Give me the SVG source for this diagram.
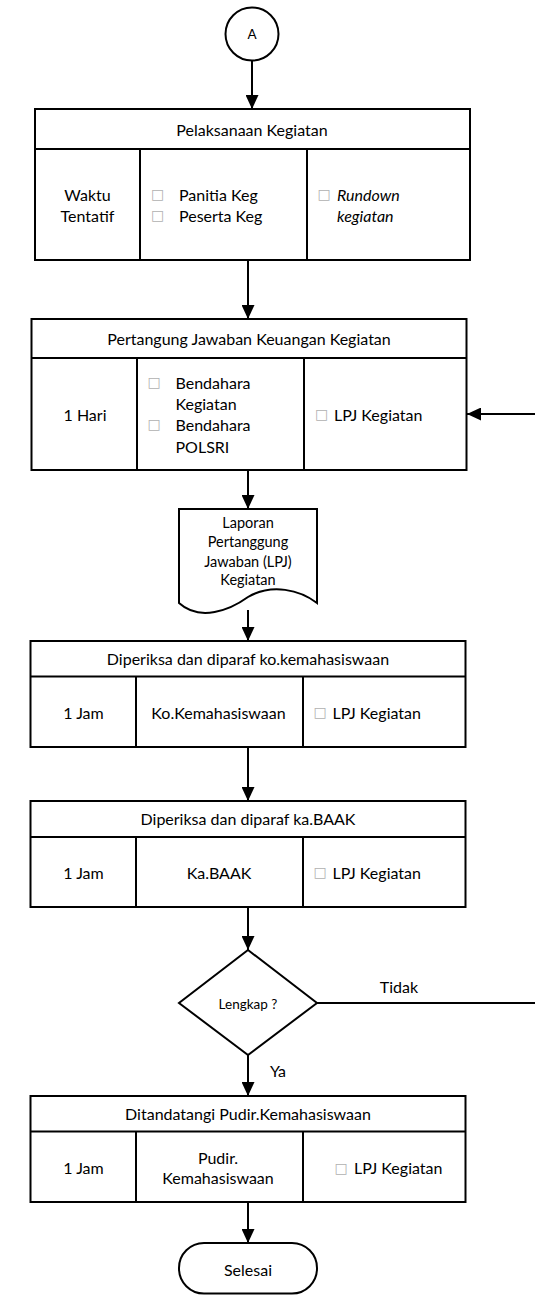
<svg xmlns="http://www.w3.org/2000/svg" width="535" height="1295" viewBox="0 0 535 1295">
<style>
.s{fill:#fff;stroke:#000;stroke-width:2}
.l{fill:none;stroke:#000;stroke-width:2}
text{font-family:Lato,"Liberation Sans",sans-serif;font-size:16px;fill:#000;dominant-baseline:central}
.c{text-anchor:middle}
.b{fill:#b0b0b0;font-size:14px;font-family:"DejaVu Sans",sans-serif}
.sm{font-size:14.5px}
.xs{font-size:13.5px}
.i{font-style:italic}
</style>
<defs>
<marker id="ar" viewBox="0 0 14 13" refX="14" refY="6.5" markerWidth="14" markerHeight="13" markerUnits="userSpaceOnUse" orient="auto">
<path d="M0,0 L14,6.5 L0,13 Z" fill="#000"/>
</marker>
</defs>

<g id="connectors">
<path class="l" d="M252,61 V109" marker-end="url(#ar)"/>
<path class="l" d="M248,260 V319" marker-end="url(#ar)"/>
<path class="l" d="M248,470 V509" marker-end="url(#ar)"/>
<path class="l" d="M248,610 V641" marker-end="url(#ar)"/>
<path class="l" d="M248,747 V801" marker-end="url(#ar)"/>
<path class="l" d="M248,907 V950" marker-end="url(#ar)"/>
<path class="l" d="M248,1055 V1096" marker-end="url(#ar)"/>
<path class="l" d="M248,1202 V1243" marker-end="url(#ar)"/>
<path class="l" d="M317,1003 H545 V414 H467" marker-end="url(#ar)"/>
<text x="399" y="986" class="c">Tidak</text>
<text x="278" y="1070" class="c">Ya</text>
</g>

<g id="start">
<circle class="s" cx="252" cy="34" r="26.5"/>
<text x="252" y="34" class="c xs">A</text>
</g>

<g id="box1">
<rect class="s" x="35" y="109" width="435" height="151"/>
<path class="l" d="M35,149 H470 M140,149 V260 M307,149 V260"/>
<text x="252" y="129" class="c">Pelaksanaan Kegiatan</text>
<text x="87.5" y="194" class="c">Waktu</text>
<text x="87.5" y="215" class="c">Tentatif</text>
<text x="157.5" y="194" class="c b">□</text>
<text x="157.5" y="215" class="c b">□</text>
<text x="179" y="194">Panitia Keg</text>
<text x="179" y="215">Peserta Keg</text>
<text x="324" y="194" class="c b">□</text>
<text x="337" y="194" class="i">Rundown</text>
<text x="337" y="215" class="i">kegiatan</text>
</g>

<g id="box2">
<rect class="s" x="31.5" y="319" width="435" height="151"/>
<path class="l" d="M31.5,358 H466.5 M137,358 V470 M304,358 V470"/>
<text x="249" y="338" class="c">Pertangung Jawaban Keuangan Kegiatan</text>
<text x="85" y="414" class="c">1 Hari</text>
<text x="154" y="382" class="c b">□</text>
<text x="154" y="424" class="c b">□</text>
<text x="175.5" y="382">Bendahara</text>
<text x="175.5" y="403">Kegiatan</text>
<text x="175.5" y="424">Bendahara</text>
<text x="175.5" y="446">POLSRI</text>
<text x="321.5" y="414" class="c b">□</text>
<text x="334" y="414">LPJ Kegiatan</text>
</g>

<g id="doc">
<path class="s" d="M179,509 H317 V603 C300,590 272,583 248,597 C230,610 200,622 179,603 Z"/>
<text x="248" y="522" class="c sm">Laporan</text>
<text x="248" y="541.5" class="c sm">Pertanggung</text>
<text x="248" y="561" class="c sm">Jawaban (LPJ)</text>
<text x="248" y="579" class="c sm">Kegiatan</text>
</g>

<g id="box3">
<rect class="s" x="30.5" y="641" width="435" height="106"/>
<path class="l" d="M30.5,676.5 H465.5 M136,676.5 V747 M303,676.5 V747"/>
<text x="248" y="658" class="c">Diperiksa dan diparaf ko.kemahasiswaan</text>
<text x="83.5" y="712" class="c">1 Jam</text>
<text x="218.5" y="712" class="c">Ko.Kemahasiswaan</text>
<text x="320" y="712" class="c b">□</text>
<text x="332.5" y="712">LPJ Kegiatan</text>
</g>

<g id="box4">
<rect class="s" x="30.5" y="801" width="435" height="106"/>
<path class="l" d="M30.5,837 H465.5 M136,837 V907 M303,837 V907"/>
<text x="248" y="818.5" class="c">Diperiksa dan diparaf ka.BAAK</text>
<text x="83.5" y="872" class="c">1 Jam</text>
<text x="219" y="872" class="c">Ka.BAAK</text>
<text x="320" y="872" class="c b">□</text>
<text x="332.5" y="872">LPJ Kegiatan</text>
</g>

<g id="decision">
<path class="s" d="M248,950 L317,1003 L248,1055 L179,1003 Z"/>
<text x="248" y="1003.5" class="c xs">Lengkap ?</text>
</g>

<g id="box5">
<rect class="s" x="30.5" y="1096" width="435" height="106"/>
<path class="l" d="M30.5,1131.5 H465.5 M136,1131.5 V1202 M303,1131.5 V1202"/>
<text x="248" y="1113.5" class="c">Ditandatangi Pudir.Kemahasiswaan</text>
<text x="83.5" y="1167.5" class="c">1 Jam</text>
<text x="218" y="1157" class="c">Pudir.</text>
<text x="218" y="1177.5" class="c">Kemahasiswaan</text>
<text x="341" y="1167.5" class="c b">□</text>
<text x="354" y="1167.5">LPJ Kegiatan</text>
</g>

<g id="end">
<rect class="s" x="179" y="1243" width="138" height="50.5" rx="25" ry="25"/>
<text x="248" y="1269" class="c">Selesai</text>
</g>
</svg>
